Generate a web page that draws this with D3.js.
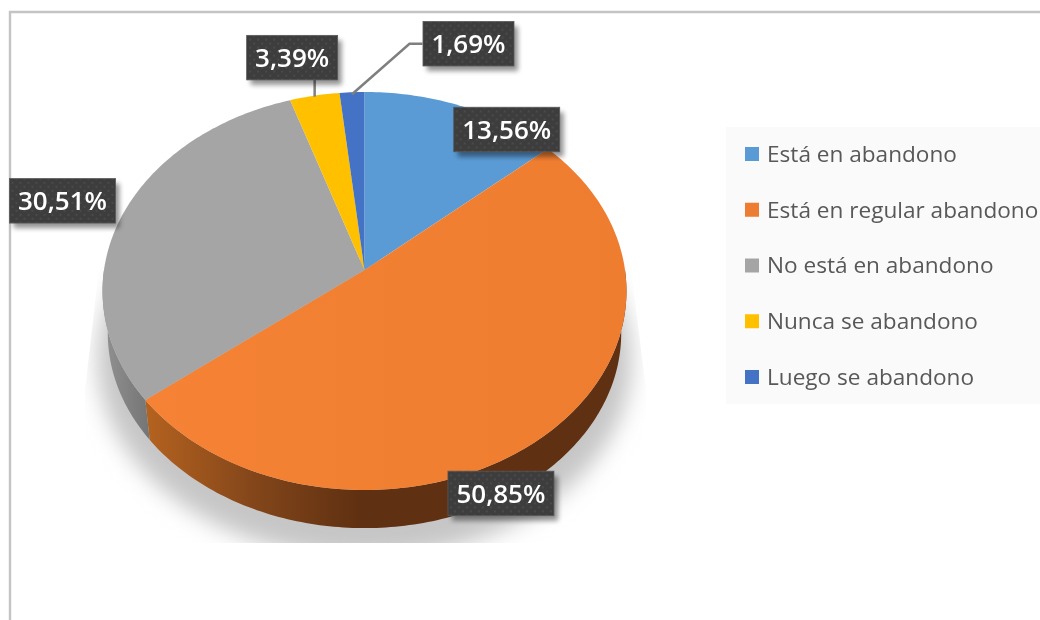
<!DOCTYPE html>
<html><head><meta charset="utf-8">
<script src="https://cdnjs.cloudflare.com/ajax/libs/d3/7.8.5/d3.min.js"></script>
<style>html,body{margin:0;padding:0;background:#fff;overflow:hidden}svg{display:block}</style>
</head><body><svg id="c" width="1040" height="620"></svg>
<script>
const categories = ["Está en abandono","Está en regular abandono","No está en abandono","Nunca se abandono","Luego se abandono"];
const values = [13.56,50.85,30.51,3.39,1.69];
const labels = ["13,56%","50,85%","30,51%","3,39%","1,69%"];
const colors = ["#5b9bd5","#f27f32","#a5a5a5","#ffc000","#4472c4"];
const labelOffsets = [[44,23],[-44.5,58.5],[-60,-14],[-22.5,-38],[116.5,-48.5]];

const W=1040,H=620,cx=364.5,cy=270,A=260.5,B=196.8,P=0.1055,K=0.98,D=42.5;
const svg=d3.select("#c"),defs=svg.append("defs");
const project=(t,depth)=>{
  const u=Math.sin(t),v=-Math.cos(t),q=1-P*v,k=depth?K:1;
  return [cx+A*u/q*k, cy+B*v/q*k+(depth?D:0)];
};
const line=d3.line();
const rimRange=(a,b,depth)=>{const n=Math.max(2,Math.ceil(Math.abs(b-a)*60));
  return d3.range(n+1).map(i=>project(a+(b-a)*i/n,depth));};

function blur(id,s){defs.append("filter").attr("id",id).attr("x","-30%").attr("y","-30%").attr("width","160%").attr("height","160%")
  .append("feGaussianBlur").attr("stdDeviation",s);}
blur("sh",11);blur("lb",2.5);blur("soft",0.45);
defs.append("clipPath").attr("id","shclip").append("path").attr("d","M100,260L630,260L646,390L646,543L85,543L85,390Z");
const grad=(id,x1,x2,stops)=>{const g=defs.append("linearGradient").attr("id",id).attr("gradientUnits","userSpaceOnUse")
  .attr("x1",x1).attr("x2",x2).attr("y1",0).attr("y2",0);
  stops.forEach(s=>g.append("stop").attr("offset",s[0]).attr("stop-color",s[1]));};
grad("sideOrange",147,360,[[0,"#b4621f"],[0.5,"#83461a"],[1,"#5f3011"]]);
grad("sideGray",102,152,[[0,"#929292"],[1,"#737373"]]);
grad("topOrange",147,627,[[0,"#f58235"],[1,"#ee7d30"]]);
const pat=defs.append("pattern").attr("id","dots").attr("width",8).attr("height",8).attr("patternUnits","userSpaceOnUse");
pat.append("rect").attr("width",8).attr("height",8).attr("fill","#3d3d3d");
pat.append("circle").attr("cx",2).attr("cy",2).attr("r",1).attr("fill","#4e4e4e");
pat.append("circle").attr("cx",6).attr("cy",6).attr("r",1).attr("fill","#4e4e4e");

// frame
svg.append("path").attr("d","M10,620V12H1040").attr("fill","none").attr("stroke","#c4c4c4").attr("stroke-width",2.4);

// data
const pie=d3.pie().sort(null).value(d=>d);
const arcs=pie(values);

// shadow
const whole=rimRange(0,2*Math.PI,false).map(p=>[cx+(p[0]-cx)*1.02,p[1]+68]);
svg.append("g").attr("clip-path","url(#shclip)").append("path").attr("d",line(whole)+"Z").attr("fill","#c6c6c6").attr("filter","url(#sh)");

// side walls
const sideFill=["none","url(#sideOrange)","url(#sideGray)","none","none"];
arcs.forEach((a,i)=>{
  const s=Math.max(a.startAngle,Math.PI/2),e=Math.min(a.endAngle,Math.PI*1.5);
  if(e<=s) return;
  const top=rimRange(s,e,false),bot=rimRange(e,s,true);
  svg.append("path").attr("d",line(top.concat(bot))+"Z").attr("fill",sideFill[i]);
});
// top face
arcs.forEach((a,i)=>{
  const pts=[[cx,cy]].concat(rimRange(a.startAngle,a.endAngle,false));
  svg.append("path").attr("d",line(pts)+"Z").attr("fill",i===1?"url(#topOrange)":colors[i]);
});

// leaders
[3,4].forEach(i=>{
  const a=arcs[i],m=(a.startAngle+a.endAngle)/2,p=project(m,false),o=labelOffsets[i];
  const c=[p[0]+o[0],p[1]+o[1]];
  const pts= i===3 ? [[p[0],p[1]+1],[p[0],c[1]+20]] : [[p[0],p[1]+2],[c[0]-59,c[1]],[c[0]-46,c[1]]];
  svg.append("path").attr("d",line(pts)).attr("fill","none").attr("stroke","#7f7f7f").attr("stroke-width",2.5);
});

// labels
const lblW=[106,106,106,91,91],lblH=44.5;
arcs.forEach((a,i)=>{
  const m=(a.startAngle+a.endAngle)/2,p=project(m,false),o=labelOffsets[i];
  const c=[p[0]+o[0],p[1]+o[1]],w=lblW[i];
  const g=svg.append("g").attr("transform",`translate(${c[0]},${c[1]})`);
  g.append("rect").attr("x",-w/2+4).attr("y",-lblH/2+5).attr("width",w).attr("height",lblH).attr("fill","#000").attr("opacity",0.42).attr("filter","url(#lb)");
  g.append("rect").attr("x",-w/2).attr("y",-lblH/2).attr("width",w).attr("height",lblH).attr("fill","url(#dots)").attr("stroke","#595959").attr("stroke-width",0.8);
  g.append("text").attr("text-anchor","middle").attr("dy","0.36em").attr("font-family","'Open Sans',sans-serif")
    .attr("font-weight",600).attr("font-size",26).attr("fill","#fff").attr("filter","url(#soft)").text(labels[i]);
});

// legend
svg.append("rect").attr("x",726).attr("y",127).attr("width",314).attr("height",277).attr("fill","#fafafa");
const ly=d3.scalePoint().domain(categories).range([154,377]);
const lg=svg.selectAll("g.l").data(categories).join("g").attr("class","l").attr("transform",d=>`translate(745,${ly(d)})`);
lg.append("rect").attr("x",0).attr("y",-7).attr("width",14).attr("height",14).attr("fill",(d,i)=>i===1?"#ed7d31":colors[i]);
lg.append("text").attr("x",22).attr("dy","0.35em").attr("font-family","'Open Sans',sans-serif").attr("font-size",22.6).attr("fill","#595959").attr("filter","url(#soft)").text(d=>d);
</script></body></html>
